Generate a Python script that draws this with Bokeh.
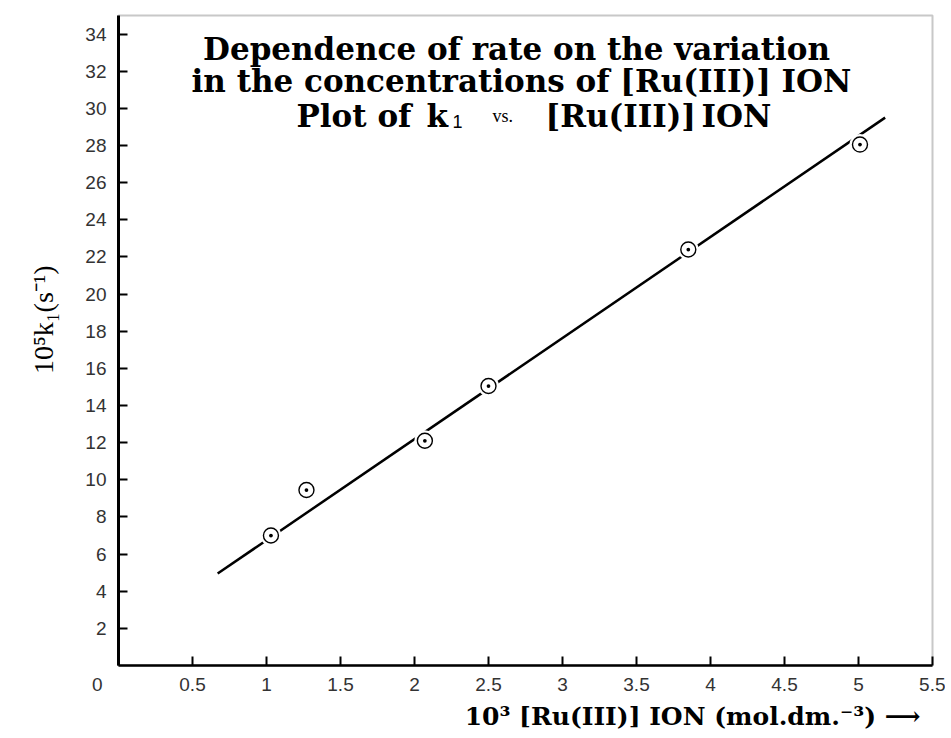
from bokeh.plotting import figure
from bokeh.models import Label, Range1d, FixedTicker, Title
from bokeh.embed import file_html
from bokeh.resources import INLINE

# ---- data ----
ru_conc = [1.03, 1.27, 2.07, 2.50, 3.85, 5.01]          # 10^3 [Ru(III)] mol dm^-3
k1_vals = [7.0, 9.45, 12.1, 15.05, 22.4, 28.05]         # 10^5 k1 (s^-1)
fit_x = [0.67, 5.18]
fit_y = [4.95, 29.5]
x_ticks = [0.0, 0.5, 1.0, 1.5, 2.0, 2.5, 3.0, 3.5, 4.0, 4.5, 5.0, 5.5]
x_tick_labels = ["0", "0.5", "1", "1.5", "2", "2.5", "3", "3.5", "4", "4.5", "5", "5.5"]
y_ticks = [2, 4, 6, 8, 10, 12, 14, 16, 18, 20, 22, 24, 26, 28, 30, 32, 34]
title_lines = ["Dependence of rate on the variation",
               "in the concentrations of [Ru(III)] ION"]
x_title = "10\u00b3 [Ru(III)] ION (mol.dm.\u207b\u00b3) \u27f6"
y_title = "10\u2075k\u2081(s\u207b\u00b9)"

XMAX, YMAX = 5.5, 35.0
W, H = 945, 736
BL, BR, BT, BB = 118, 13, 15, 71
FW = W - BL - BR
FH = H - BT - BB

p = figure(width=W, height=H, output_backend="svg", toolbar_location=None,
           x_range=Range1d(0, XMAX), y_range=Range1d(0, YMAX),
           min_border_left=BL, min_border_right=BR, min_border_top=BT, min_border_bottom=BB)
p.grid.visible = False
p.background_fill_color = "white"
p.border_fill_color = "white"
p.outline_line_color = "#c8c8c8"
p.outline_line_width = 2

def dx(px):
    return (px - BL) * XMAX / FW

def dy(py):
    return (BT + FH - py) * YMAX / FH

# axes
for ax in (p.xaxis[0], p.yaxis[0]):
    ax.major_tick_in = 9
    ax.major_tick_out = 0
    ax.minor_tick_line_color = None
    ax.major_tick_line_width = 2
    ax.major_tick_line_color = "black"
    ax.axis_line_color = "black"
    ax.major_label_text_font = "Liberation Sans"
    ax.major_label_text_font_size = "19px"
    ax.major_label_text_color = "#333333"
p.xaxis.axis_line_width = 2.5
p.yaxis.axis_line_width = 3
p.xaxis.ticker = FixedTicker(ticks=x_ticks)
overrides = {t: l for t, l in zip(x_ticks, x_tick_labels)}
overrides[0.0] = x_tick_labels[0] + "\u00a0" * 8   # origin label sits left of the corner
p.xaxis.major_label_overrides = overrides
p.yaxis.ticker = FixedTicker(ticks=y_ticks)
p.xaxis.major_label_standoff = 8
p.yaxis.major_label_standoff = 12

# axis titles as side-panel titles
p.add_layout(Title(text=x_title, align="right", offset=12, standoff=4,
                   text_font="DejaVu Serif", text_font_style="bold",
                   text_font_size="25px", text_color="black"), "below")
p.add_layout(Title(text=y_title, align="right", offset=250, standoff=47,
                   text_font="Liberation Serif", text_font_style="normal",
                   text_font_size="28px", text_color="black"), "left")

# fit line and points
p.line(fit_x, fit_y, line_color="black", line_width=2.5)
p.scatter(ru_conc, k1_vals, marker="circle", size=21, fill_color="white", line_color=None)
p.scatter(ru_conc, k1_vals, marker="circle_dot", size=15, fill_color="white",
          line_color="black", line_width=1.4)

def lab(text, px, py, size, font="DejaVu Serif", style="bold", align="left",
        baseline="alphabetic", color="black"):
    p.add_layout(Label(x=dx(px), y=dy(py), text=text, text_font=font,
                       text_font_size=f"{size}px", text_font_style=style,
                       text_align=align, text_baseline=baseline, text_color=color))

# title inside the plot area
lab(title_lines[0], 516, 48, 31, align="center")
lab(title_lines[1], 521, 80, 31, align="center")
lab("Plot of", 296, 115, 31)
lab("k", 426, 115, 31)
lab("1", 452, 121, 18, font="Liberation Sans", style="normal")
lab("vs.", 492, 115, 18, font="Liberation Serif", style="normal")
lab("[Ru(III)]", 545, 115, 31)
lab("ION", 701, 115, 31)

open("out.html", "w").write(file_html(p, INLINE))
